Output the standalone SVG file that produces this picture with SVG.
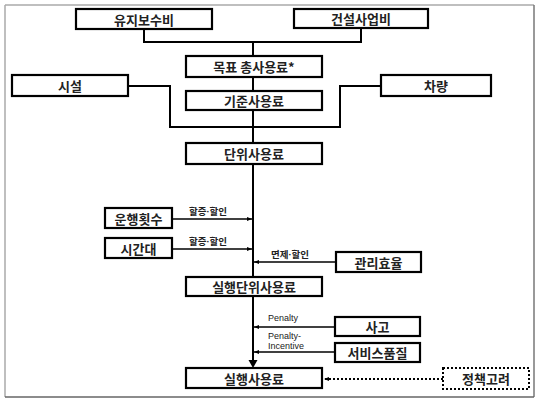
<svg xmlns="http://www.w3.org/2000/svg" width="543" height="406" viewBox="0 0 543 406">
<defs>
<style>
.box{fill:#fff;stroke:#000;stroke-width:2.2}
.dot{fill:#fff;stroke:#000;stroke-width:2;stroke-dasharray:2 2}
.t{font-family:"Noto Sans CJK KR","Noto Sans",sans-serif;font-size:13px;font-weight:bold;fill:#222;text-anchor:middle;dominant-baseline:central}
.s{font-family:"Noto Sans CJK KR","Noto Sans",sans-serif;font-size:9.5px;font-weight:bold;fill:#222}
.e{font-family:"Liberation Sans",Arial,sans-serif;font-size:9px;fill:#222}
.m{font-family:"Liberation Sans",Arial,sans-serif}
.c{fill:none;stroke:#000;stroke-width:2}
.a{fill:none;stroke:#000;stroke-width:1.6}
</style>
<marker id="ah" viewBox="0 0 10 10" refX="10" refY="5" markerWidth="5" markerHeight="5" orient="auto" markerUnits="userSpaceOnUse">
<path d="M0,1 L10,5 L0,9 z" fill="#000"/>
</marker>
</defs>
<rect x="0" y="0" width="543" height="406" fill="#fff"/>
<g id="frame">
<line x1="5" y1="5" x2="534" y2="5" stroke="#aaa" stroke-width="1.5"/>
<line x1="5" y1="5" x2="5" y2="397" stroke="#aaa" stroke-width="1.5"/>
<line x1="534" y1="5" x2="534" y2="397" stroke="#777" stroke-width="1.5"/>
<line x1="5" y1="397" x2="534" y2="397" stroke="#666" stroke-width="1.5"/>
</g>
<g id="connectors">
<path class="c" d="M144,29 V42 H361 V27"/>
<path class="c" d="M253,42 V56"/>
<path class="c" d="M253,77 V91"/>
<path class="c" d="M128,86 H170 V127 H340 V86 H381"/>
<path class="c" d="M253,110 V143"/>
<path class="c" d="M253,164 V277"/>
<path class="c" d="M253,296 V362"/>
<path d="M248.5,360 L253,368 L257.5,360 z" fill="#000"/>
<line class="a" x1="172" y1="219" x2="252" y2="219" marker-end="url(#ah)"/>
<line class="a" x1="172" y1="249" x2="252" y2="249" marker-end="url(#ah)"/>
<line class="a" x1="336" y1="262" x2="254" y2="262" marker-end="url(#ah)"/>
<line class="a" x1="335" y1="327" x2="254" y2="327" marker-end="url(#ah)"/>
<line class="a" x1="335" y1="352" x2="254" y2="352" marker-end="url(#ah)"/>
<line x1="443" y1="379" x2="324" y2="379" stroke="#000" stroke-width="1.8" stroke-dasharray="2 2" marker-end="url(#ah)"/>
<text class="s" x="208" y="215" text-anchor="middle">할증<tspan class="m">·</tspan>할인</text>
<text class="s" x="208" y="245" text-anchor="middle">할증<tspan class="m">·</tspan>할인</text>
<text class="s" x="290" y="258" text-anchor="middle">면제<tspan class="m">·</tspan>할인</text>
<text class="e" x="268" y="321">Penalty</text>
<text class="e" x="268" y="339">Penalty-</text>
<text class="e" x="268" y="348.5">Incentive</text>
</g>
<g id="n1"><rect class="box" x="76" y="9" width="136" height="20"/><text class="t" x="144" y="19">유지보수비</text></g>
<g id="n2"><rect class="box" x="294" y="9" width="134" height="19"/><text class="t" x="361" y="18.5">건설사업비</text></g>
<g id="n3"><rect class="box" x="186" y="56" width="136" height="21"/><text class="t" x="254" y="66.5">목표 총사용료*</text></g>
<g id="n4"><rect class="box" x="12" y="75" width="116" height="21"/><text class="t" x="70" y="85.5">시설</text></g>
<g id="n5"><rect class="box" x="381" y="75" width="110" height="21"/><text class="t" x="436" y="85.5">차량</text></g>
<g id="n6"><rect class="box" x="186" y="91" width="136" height="19"/><text class="t" x="254" y="100.5">기준사용료</text></g>
<g id="n7"><rect class="box" x="186" y="143" width="136" height="21"/><text class="t" x="254" y="153.5">단위사용료</text></g>
<g id="n8"><rect class="box" x="105" y="208" width="67" height="20"/><text class="t" x="138.5" y="218">운행횟수</text></g>
<g id="n9"><rect class="box" x="105" y="238" width="67" height="20"/><text class="t" x="138.5" y="248">시간대</text></g>
<g id="n10"><rect class="box" x="336" y="252" width="85" height="20"/><text class="t" x="378.5" y="262">관리효율</text></g>
<g id="n11"><rect class="box" x="186" y="277" width="136" height="19"/><text class="t" x="254" y="286.5">실행단위사용료</text></g>
<g id="n12"><rect class="box" x="335" y="317" width="85" height="19"/><text class="t" x="377.5" y="326.5">사고</text></g>
<g id="n13"><rect class="box" x="335" y="343" width="85" height="19"/><text class="t" x="377.5" y="352.5">서비스품질</text></g>
<g id="n14"><rect class="box" x="186" y="368" width="136" height="20"/><text class="t" x="254" y="378">실행사용료</text></g>
<g id="n15"><rect class="dot" x="443" y="368" width="86" height="21"/><text class="t" x="486" y="378.5">정책고려</text></g>
</svg>
